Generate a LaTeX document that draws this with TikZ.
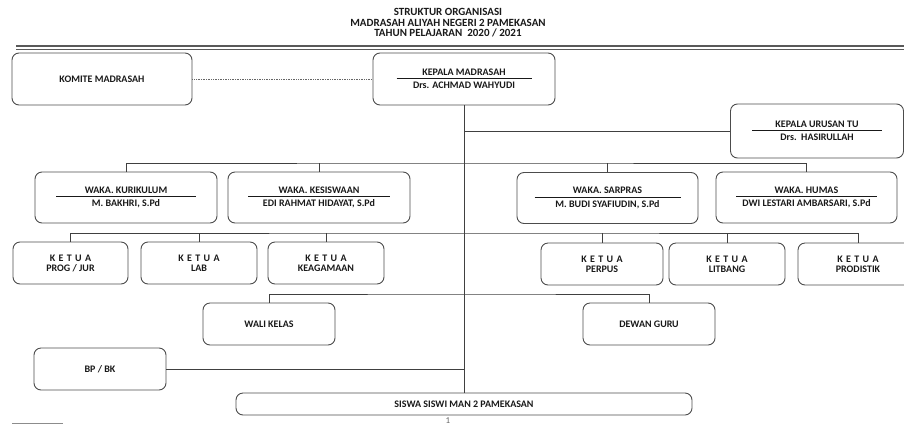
\documentclass[tikz,border=0pt]{standalone}
\usepackage{fontspec}
\setmainfont{Carlito}
\newcommand{\jab}[3]{#1\\[-8.5pt]\rule{#3}{0.6pt}\\[-2pt]#2}
\newcommand{\ketua}[1]{K\,\,E\,\,T\,\,U\,\,A\\[-2pt]#1}
\tikzset{
  kotak/.style={draw=black!70, line width=0.9pt, rounded corners=7pt, align=center,
    font=\fontsize{10}{12}\selectfont\bfseries, text=black!90, inner sep=0pt},
  garis/.style={draw=black!75, line width=0.8pt}
}
\begin{document}
\begin{tikzpicture}[x=1pt, y=-1pt]
  \useasboundingbox (0,0) rectangle (904,426);
  \node [font=\fontsize{11}{10.5}\selectfont\bfseries, text=black!90, align=center] (judul) at (448,23)
    {STRUKTUR ORGANISASI\\MADRASAH ALIYAH NEGERI 2 PAMEKASAN\\TAHUN PELAJARAN\ \ 2020 / 2021};
  \draw [black!65, line width=1.8pt] (16,46) -- (910,46);
  \draw [black!65, line width=0.8pt] (16,49.5) -- (910,49.5);

  \node [kotak, minimum width=180pt, minimum height=52pt] (komite) at (102,79) {KOMITE MADRASAH};
  \node [kotak, minimum width=182pt, minimum height=52pt] (kepala) at (464,79)
    {\jab{KEPALA MADRASAH}{Drs. ACHMAD WAHYUDI}{135pt}};
  \node [kotak, minimum width=173pt, minimum height=54pt] (tu) at (817,131)
    {\jab{KEPALA URUSAN TU}{Drs.\ \ HASIRULLAH}{130pt}};

  \node [kotak, minimum width=182pt, minimum height=51pt] (kur) at (126,197.5)
    {\jab{WAKA. KURIKULUM}{M. BAKHRI, S.Pd}{140pt}};
  \node [kotak, minimum width=182pt, minimum height=51pt] (kes) at (319,197.5)
    {\jab{WAKA. KESISWAAN}{EDI RAHMAT HIDAYAT, S.Pd}{142pt}};
  \node [kotak, minimum width=181pt, minimum height=51pt] (sar) at (607.5,198)
    {\jab{WAKA. SARPRAS}{M. BUDI SYAFIUDIN, S.Pd}{146pt}};
  \node [kotak, minimum width=181pt, minimum height=51pt] (hum) at (806.5,197.5)
    {\jab{WAKA. HUMAS}{DWI LESTARI AMBARSARI, S.Pd}{141pt}};

  \node [kotak, minimum width=115pt, minimum height=42pt] (prog) at (70.5,263) {\ketua{PROG / JUR}};
  \node [kotak, minimum width=116pt, minimum height=42pt] (lab) at (199,263) {\ketua{LAB}};
  \node [kotak, minimum width=116pt, minimum height=42pt] (agama) at (326,263) {\ketua{KEAGAMAAN}};
  \node [kotak, minimum width=122pt, minimum height=42pt] (perpus) at (602,264) {\ketua{PERPUS}};
  \node [kotak, minimum width=116pt, minimum height=42pt] (litbang) at (727,264) {\ketua{LITBANG}};
  \node [kotak, minimum width=120pt, minimum height=42pt] (prodistik) at (858,264) {\ketua{PRODISTIK}};

  \node [kotak, minimum width=132pt, minimum height=42pt] (wali) at (269,324) {WALI KELAS};
  \node [kotak, minimum width=132pt, minimum height=42pt] (dewan) at (649,324) {DEWAN GURU};
  \node [kotak, minimum width=132pt, minimum height=42pt] (bpbk) at (100,369) {BP / BK};
  \node [kotak, minimum width=456pt, minimum height=22pt] (siswa) at (464,404) {SISWA SISWI MAN 2 PAMEKASAN};

  \coordinate (cwaka) at (464,163);
  \coordinate (cketua) at (464,233);
  \coordinate (cwali) at (464,294);

  \draw [black!60, line width=0.7pt, densely dotted] (komite) -- (kepala);
  \draw [garis] (kepala) -- (siswa);
  \draw [garis] (kepala.south |- tu.west) -- (tu);
  \draw [garis] (kur) |- (cwaka) -| (hum);
  \draw [garis] (kes) -- (kes |- cwaka);
  \draw [garis] (sar) -- (sar |- cwaka);
  \draw [garis] (prog) |- (cketua) -| (prodistik);
  \draw [garis] (lab) -- (lab |- cketua);
  \draw [garis] (agama) -- (agama |- cketua);
  \draw [garis] (perpus) -- (perpus |- cketua);
  \draw [garis] (litbang) -- (litbang |- cketua);
  \draw [garis] (wali) |- (cwali) -| (dewan);
  \draw [garis] (bpbk) -- (bpbk -| siswa);

  \node [font=\fontsize{9}{10}\selectfont, text=black!60] (hal) at (448,421) {1};
  \draw [black!45, line width=1.5pt] (12,423.5) -- (63,423.5);
\end{tikzpicture}
\end{document}
